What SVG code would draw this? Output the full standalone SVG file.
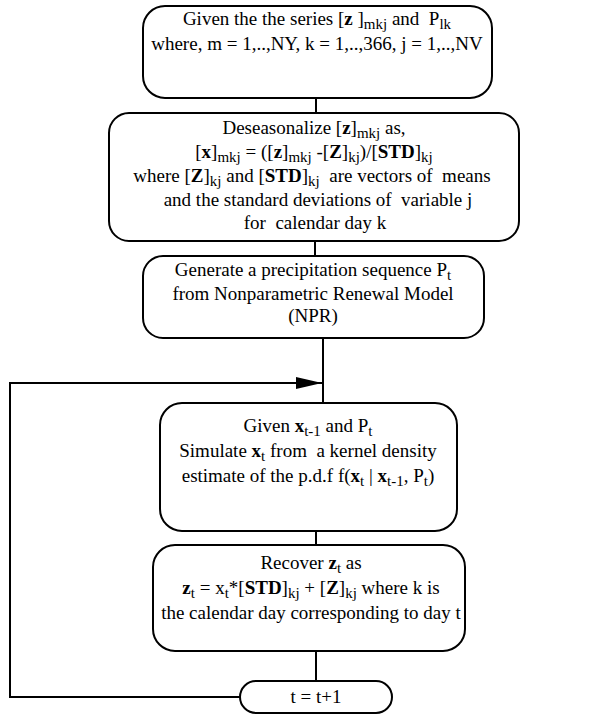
<svg xmlns="http://www.w3.org/2000/svg" width="614" height="722" viewBox="0 0 614 722">
  <defs>
    <style>
      .box { fill: #ffffff; stroke: #000000; stroke-width: 2; }
      .line { fill: none; stroke: #000000; stroke-width: 2; }
      text { font-family: "Liberation Serif", "Times New Roman", serif; font-size: 19px; fill: #000000; text-anchor: middle; white-space: pre; }
      .b { font-weight: bold; }
      .s { font-size: 15px; }
    </style>
    <marker id="arrow" viewBox="0 0 26 12" refX="26" refY="6" markerWidth="26" markerHeight="12" markerUnits="userSpaceOnUse" orient="auto">
      <path d="M0,0 L26,6 L0,12 Z" fill="#000000"/>
    </marker>
  </defs>
  <rect width="614" height="722" fill="#ffffff"/>

  <!-- connectors -->
  <g id="connectors">
    <line class="line" x1="316" y1="98" x2="316" y2="113"/>
    <line class="line" x1="315" y1="241" x2="315" y2="256"/>
    <line class="line" x1="323" y1="338" x2="323" y2="403"/>
    <line class="line" x1="316" y1="531" x2="316" y2="545"/>
    <line class="line" x1="316" y1="651" x2="316" y2="681"/>
    <polyline class="line" points="240,697 10,697 10,383 322,383" marker-end="url(#arrow)"/>
  </g>

  <!-- input series -->
  <g id="node-input">
    <rect class="box" x="143" y="6" width="349" height="92" rx="22"/>
    <text x="317" y="25">Given the the series [<tspan class="b">z</tspan> ]<tspan class="s" dy="4">mkj</tspan><tspan dy="-4"> and  P</tspan><tspan class="s" dy="4">lk</tspan></text>
    <text x="317" y="50">where, m = 1,..,NY, k = 1,..,366, j = 1,..,NV</text>
  </g>

  <!-- deseasonalize -->
  <g id="node-deseasonalize">
    <rect class="box" x="109" y="113" width="410" height="128" rx="20"/>
    <text x="314" y="134">Deseasonalize [<tspan class="b">z</tspan>]<tspan class="s" dy="4">mkj</tspan><tspan dy="-4"> as,</tspan></text>
    <text x="314" y="158">[<tspan class="b">x</tspan>]<tspan class="s" dy="4">mkj</tspan><tspan dy="-4"> = ([</tspan><tspan class="b">z</tspan>]<tspan class="s" dy="4">mkj</tspan><tspan dy="-4"> -[</tspan><tspan class="b">Z</tspan>]<tspan class="s" dy="4">kj</tspan><tspan dy="-4">)/[</tspan><tspan class="b">STD</tspan>]<tspan class="s" dy="4">kj</tspan></text>
    <text x="312" y="182">where [<tspan class="b">Z</tspan>]<tspan class="s" dy="4">kj</tspan><tspan dy="-4"> and [</tspan><tspan class="b">STD</tspan>]<tspan class="s" dy="4">kj</tspan><tspan dy="-4">  are vectors of  means</tspan></text>
    <text x="318" y="206">and the standard deviations of  variable j</text>
    <text x="315" y="229">for  calendar day k</text>
  </g>

  <!-- precipitation model -->
  <g id="node-npr">
    <rect class="box" x="143" y="256" width="341" height="82" rx="20"/>
    <text x="313" y="276">Generate a precipitation sequence P<tspan class="s" dy="4">t</tspan></text>
    <text x="313" y="300">from Nonparametric Renewal Model</text>
    <text x="313" y="322">(NPR)</text>
  </g>

  <!-- kernel simulation -->
  <g id="node-simulate">
    <rect class="box" x="160" y="403" width="297" height="128" rx="22"/>
    <text x="308" y="432">Given <tspan class="b">x</tspan><tspan class="s" dy="4">t-1</tspan><tspan dy="-4"> and P</tspan><tspan class="s" dy="4">t</tspan></text>
    <text x="308" y="457">Simulate <tspan class="b">x</tspan><tspan class="s" dy="4">t</tspan><tspan dy="-4"> from  a kernel density</tspan></text>
    <text x="308" y="482">estimate of the p.d.f f(<tspan class="b">x</tspan><tspan class="s" dy="4">t</tspan><tspan dy="-4"> | </tspan><tspan class="b">x</tspan><tspan class="s" dy="4">t-1</tspan><tspan dy="-4">, P</tspan><tspan class="s" dy="4">t</tspan><tspan dy="-4">)</tspan></text>
  </g>

  <!-- recover -->
  <g id="node-recover">
    <rect class="box" x="153" y="545" width="312" height="106" rx="22"/>
    <text x="311" y="569">Recover <tspan class="b">z</tspan><tspan class="s" dy="4">t</tspan><tspan dy="-4"> as</tspan></text>
    <text x="311" y="594"><tspan class="b">z</tspan><tspan class="s" dy="4">t</tspan><tspan dy="-4"> = x</tspan><tspan class="s" dy="4">t</tspan><tspan dy="-4">*[</tspan><tspan class="b">STD</tspan>]<tspan class="s" dy="4">kj</tspan><tspan dy="-4"> + [</tspan><tspan class="b">Z</tspan>]<tspan class="s" dy="4">kj</tspan><tspan dy="-4"> where k is</tspan></text>
    <text x="311" y="619">the calendar day corresponding to day t</text>
  </g>

  <!-- time step -->
  <g id="node-step">
    <rect class="box" x="240" y="681" width="152" height="32" rx="16"/>
    <text x="316" y="703">t = t+1</text>
  </g>
</svg>
